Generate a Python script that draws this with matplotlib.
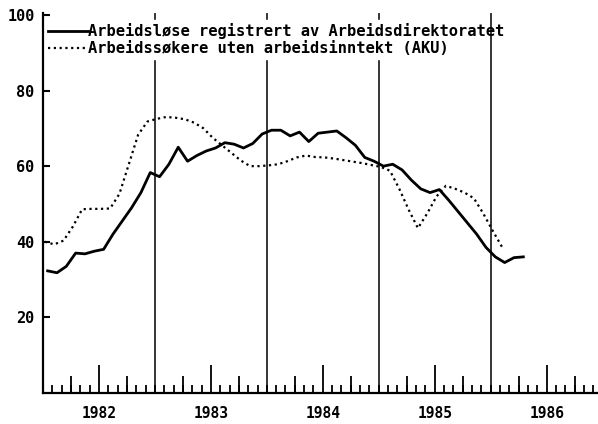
import numpy as np
import matplotlib.pyplot as plt

# Monthly values, Jan 1982 onwards
registered = [32.3, 31.8, 33.5, 37.0, 36.8, 37.5, 38.0, 42.0, 45.5, 49.0,
              53.0, 58.3, 57.2, 60.5, 65.0, 61.3, 62.8, 64.0, 64.8, 66.2,
              65.8, 64.8, 66.0, 68.5, 69.5, 69.5, 68.0, 69.0, 66.5, 68.7,
              69.0, 69.3, 67.5, 65.5, 62.3, 61.3, 60.0, 60.5, 59.0, 56.3,
              54.0, 53.0, 53.8, 51.0, 48.0, 45.0, 42.0, 38.5, 36.0, 34.5,
              35.8, 36.0]
aku = [40.0, 39.3, 40.3, 44.0, 48.6, 48.7, 48.7, 48.8, 52.7, 60.5,
       68.3, 71.8, 72.5, 73.0, 72.8, 72.4, 71.5, 70.0, 67.5, 65.5,
       63.5, 61.5, 60.0, 60.0, 60.2, 60.5, 61.3, 62.3, 62.8, 62.4,
       62.3, 62.0, 61.6, 61.2, 60.8, 60.3, 59.8, 58.8, 54.0, 48.5,
       43.6, 47.5, 52.0, 54.8, 54.0, 53.0, 51.5, 47.5, 43.0, 38.7]
years = [1982, 1983, 1984, 1985, 1986]
yticks = [20, 40, 60, 80, 100]
labels = ['Arbeidsløse registrert av Arbeidsdirektoratet',
          'Arbeidssøkere uten arbeidsinntekt (AKU)']

plt.rcParams['font.family'] = 'DejaVu Sans Mono'
plt.rcParams['font.weight'] = 'bold'

x_reg = 1982 + (np.arange(len(registered)) + 0.5) / 12
x_aku = 1982 + (np.arange(len(aku)) + 0.2) / 12

fig = plt.figure(figsize=(5.98, 4.24), dpi=100)
ax = fig.add_axes([43 / 598, 31 / 424, 554 / 598, 380 / 424])

ax.plot(x_reg, registered, color='black', lw=2.0, label=labels[0])
ax.plot(x_aku, aku, color='black', lw=1.6, linestyle=(0, (1, 1.6)), label=labels[1])

# year separators
for yr in years[1:]:
    ax.axvline(yr, color='black', lw=1.1, zorder=6 if yr == 1986 else 1)

ax.set_xlim(1982, 1986.95)
ax.set_ylim(0, 100.5)
ax.set_yticks(yticks)
ax.set_yticklabels([str(v) for v in yticks], fontsize=11, fontweight='bold')
ax.tick_params(axis='y', direction='in', length=5, width=1.5, pad=6)

ax.set_xticks([y + 0.5 for y in years])
ax.set_xticklabels([str(y) for y in years], fontsize=10.5, fontweight='bold')
ax.set_xticks(1982 + np.arange(1, 60) / 12, minor=True)
ax.tick_params(axis='x', which='major', direction='in', length=20, width=1.3, pad=9)
ax.tick_params(axis='x', which='minor', direction='in', length=6, width=1.3)

quarters = ax.secondary_xaxis('bottom')
quarters.set_xticks([y + q for y in years for q in (0.25, 0.75)])
quarters.tick_params(direction='in', length=12, width=1.3, labelbottom=False)
quarters.spines['bottom'].set_visible(False)

for s in ['top', 'right']:
    ax.spines[s].set_visible(False)
for s in ['left', 'bottom']:
    ax.spines[s].set_linewidth(1.6)

leg = ax.legend(loc='upper left', bbox_to_anchor=(0.003, 0.982), borderaxespad=0,
                frameon=True, fancybox=False, edgecolor='white', facecolor='white',
                framealpha=1, handlelength=2.6, handletextpad=0.0, labelspacing=0.12,
                borderpad=0.22, prop={'family': 'DejaVu Sans Mono', 'weight': 'bold', 'size': 11.1})

fig.savefig('out.png', dpi=100)
